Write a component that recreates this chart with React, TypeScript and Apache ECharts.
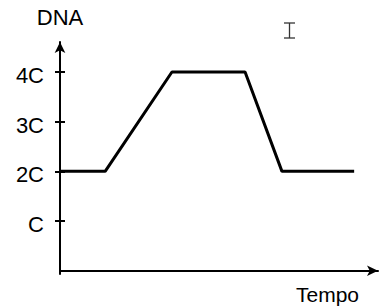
import React, { useEffect, useRef } from "react";
import * as echarts from "echarts";

const timePoints = [0, 1.42, 3.52, 5.82, 6.98, 9.25];
const dnaValues = [2, 2, 4, 4, 2, 2];
const yTickValues = [1, 2, 3, 4];
const yTickLabels = ["C", "2C", "3C", "4C"];
const yName = "DNA";
const xName = "Tempo";

export default function App() {
  const ref = useRef<HTMLDivElement>(null);
  useEffect(() => {
    if (!ref.current) return;
    const chart = echarts.init(ref.current, null, { renderer: "svg" });
    const fmt = (v: number) => {
      const i = yTickValues.indexOf(Math.round(v));
      return i >= 0 ? yTickLabels[i] : "";
    };
    chart.setOption({
      animation: false,
      backgroundColor: "#fff",
      textStyle: { fontFamily: "Liberation Sans, Arial, sans-serif" },
      grid: { left: 60, right: 1, top: 42, bottom: 32 },
      xAxis: {
        type: "value",
        min: 0,
        max: 10,
        name: xName,
        nameLocation: "end",
        nameGap: -82,
        nameTextStyle: {
          fontSize: 21,
          color: "#000",
          align: "left",
          verticalAlign: "top",
          padding: [13, 0, 0, 0],
        },
        axisLine: {
          show: true,
          symbol: ["none", "arrow"],
          symbolSize: [8, 11],
          lineStyle: { color: "#000", width: 2 },
        },
        axisTick: { show: false },
        axisLabel: { show: false },
        splitLine: { show: false },
      },
      yAxis: [
        {
          type: "value",
          min: -0.066,
          max: 4.604,
          name: yName,
          nameLocation: "end",
          nameGap: 14,
          nameTextStyle: { fontSize: 22, color: "#000", align: "center" },
          axisLine: {
            show: true,
            symbol: ["none", "arrow"],
            symbolSize: [8, 11],
            lineStyle: { color: "#000", width: 2 },
          },
          axisTick: {
            show: true,
            length: 5,
            customValues: yTickValues,
            lineStyle: { color: "#000", width: 2 },
          },
          axisLabel: {
            show: true,
            customValues: yTickValues,
            formatter: fmt,
            fontSize: 22,
            color: "#000",
            margin: 16,
            verticalAlign: "top",
            lineHeight: 7,
          },
          splitLine: { show: false },
        },
        {
          type: "value",
          position: "left",
          offset: 0,
          min: -0.066,
          max: 4.604,
          axisLine: { show: false },
          axisTick: {
            show: true,
            inside: true,
            length: 5,
            customValues: yTickValues,
            lineStyle: { color: "#000", width: 2 },
          },
          axisLabel: { show: false },
          splitLine: { show: false },
        },
      ],
      series: [
        {
          type: "line",
          yAxisIndex: 0,
          data: timePoints.map((t, i) => [t, dnaValues[i]]),
          showSymbol: false,
          symbol: "none",
          lineStyle: { color: "#000", width: 3 },
        },
      ],
      graphic: [
        {
          type: "group",
          children: [
            { type: "line", shape: { x1: 289.5, y1: 23, x2: 289.5, y2: 38 }, style: { stroke: "#333", lineWidth: 1.3 } },
            { type: "line", shape: { x1: 284, y1: 23, x2: 295, y2: 23 }, style: { stroke: "#333", lineWidth: 1.3 } },
            { type: "line", shape: { x1: 284, y1: 38, x2: 295, y2: 38 }, style: { stroke: "#333", lineWidth: 1.3 } },
          ],
        },
      ],
    });
    return () => chart.dispose();
  }, []);
  return <div ref={ref} style={{ width: 379, height: 306, position: "fixed", left: 0, top: 0 }} />;
}
